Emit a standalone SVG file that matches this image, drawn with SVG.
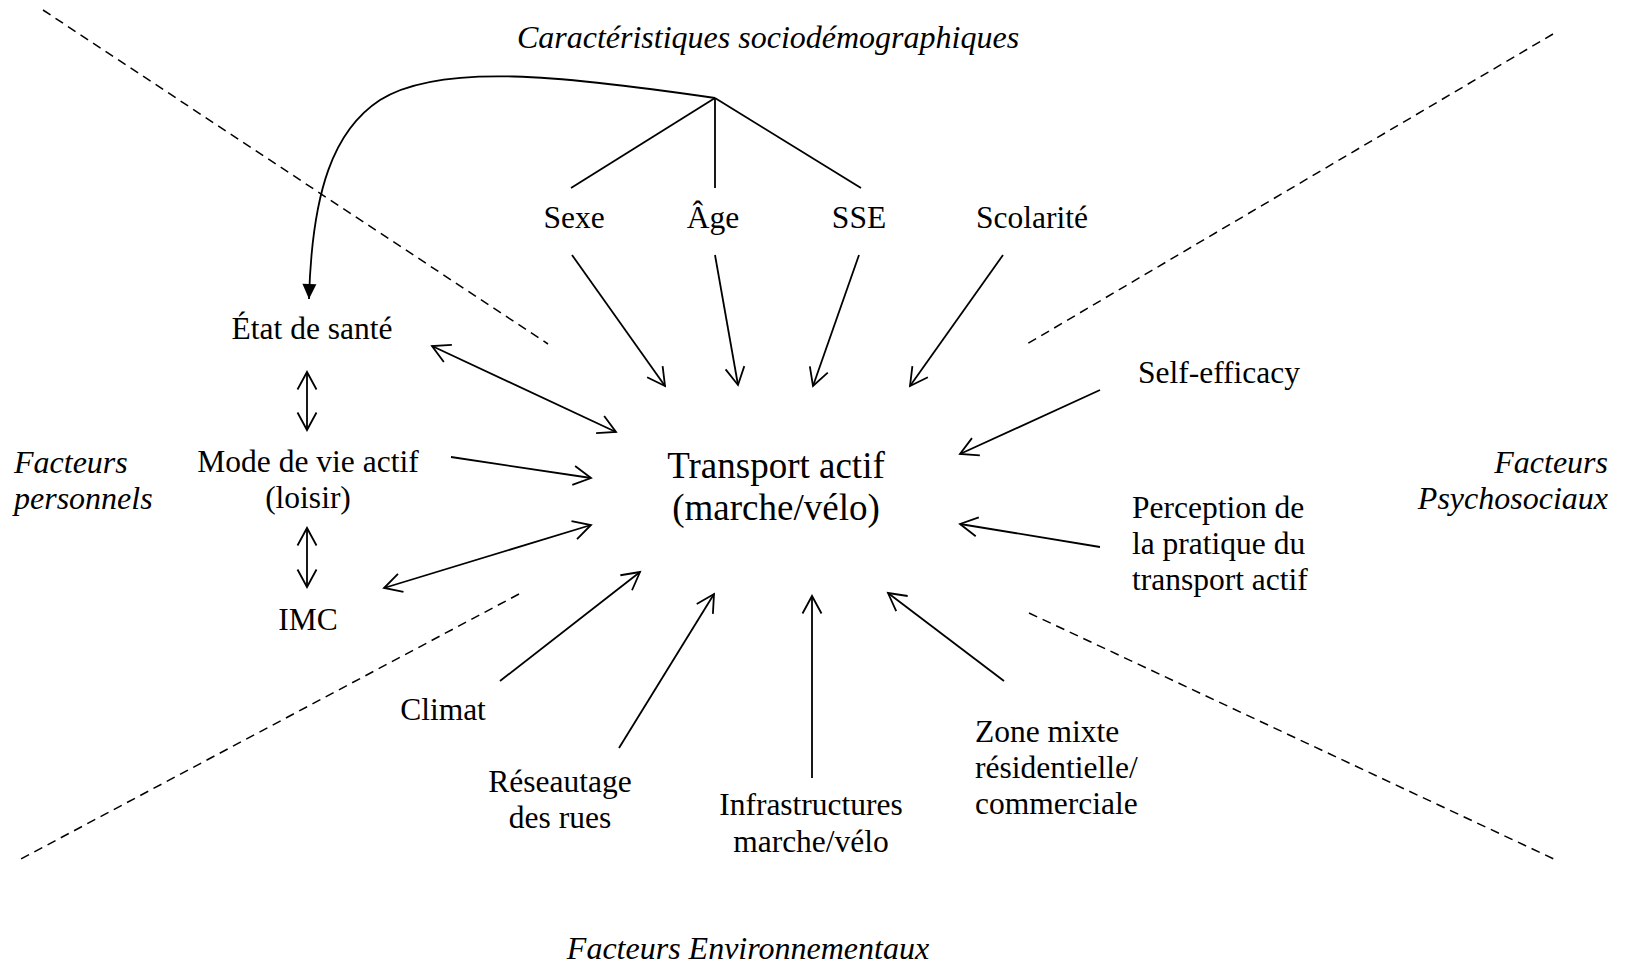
<svg xmlns="http://www.w3.org/2000/svg" width="1630" height="968" viewBox="0 0 1630 968">
<defs>
<marker id="open" markerUnits="userSpaceOnUse" markerWidth="40" markerHeight="40" refX="0" refY="0" viewBox="-20 -20 40 40" orient="auto-start-reverse" overflow="visible">
<path d="M -17.5 -9.5 L 0 0 L -17.5 9.5" fill="none" stroke="#000" stroke-width="1.8"/>
</marker>
<marker id="solid" markerUnits="userSpaceOnUse" markerWidth="40" markerHeight="40" refX="0" refY="0" viewBox="-20 -20 40 40" orient="auto" overflow="visible">
<path d="M -15 -7 L 0 0 L -15 7 Z" fill="#000" stroke="none"/>
</marker>
</defs>
<style>
text { font-family: "Liberation Serif", "Times New Roman", serif; fill: #000; }
.lbl { font-size: 31.5px; }
.mid { text-anchor: middle; }
.main { font-size: 37px; text-anchor: middle; }
.cat { font-size: 32px; font-style: italic; }
.dash { stroke: #000; stroke-width: 1.5; stroke-dasharray: 9 6; fill: none; }
.ln { stroke: #000; stroke-width: 1.8; fill: none; }
.arr { stroke: #000; stroke-width: 1.8; fill: none; marker-end: url(#open); }
.bi { stroke: #000; stroke-width: 1.8; fill: none; marker-start: url(#open); marker-end: url(#open); }
</style>
<rect width="1630" height="968" fill="#fff"/>

<g id="dividers">
<line class="dash" x1="43" y1="10" x2="548" y2="344"/>
<line class="dash" x1="1553" y1="34" x2="1027" y2="344"/>
<line class="dash" x1="519" y1="594" x2="19" y2="860"/>
<line class="dash" x1="1029" y1="613" x2="1556" y2="860"/>
</g>

<g id="categories">
<text class="cat" x="768" y="48" text-anchor="middle">Caractéristiques sociodémographiques</text>
<text class="cat" x="14" y="473">Facteurs</text>
<text class="cat" x="14" y="509">personnels</text>
<text class="cat" x="1608" y="473" text-anchor="end">Facteurs</text>
<text class="cat" x="1608" y="509" text-anchor="end">Psychosociaux</text>
<text class="cat" x="748" y="959" text-anchor="middle">Facteurs Environnementaux</text>
</g>

<g id="connectors">
<path class="ln" d="M 715 98 C 565 76 440 62 380 100 C 334 130 312 190 309 299" marker-end="url(#solid)"/>
<line class="ln" x1="715" y1="98" x2="571" y2="188"/>
<line class="ln" x1="715" y1="98" x2="715" y2="188"/>
<line class="ln" x1="715" y1="98" x2="861" y2="188"/>
<line class="arr" x1="572" y1="255" x2="665" y2="386"/>
<line class="arr" x1="715" y1="255" x2="738" y2="385"/>
<line class="arr" x1="859" y1="255" x2="813" y2="386"/>
<line class="arr" x1="1003" y1="255" x2="910" y2="386"/>
<line class="bi" x1="432" y1="346" x2="616" y2="432"/>
<line class="arr" x1="451" y1="457" x2="591" y2="478"/>
<line class="bi" x1="384" y1="588" x2="591" y2="525"/>
<line class="bi" x1="307" y1="372" x2="307" y2="430"/>
<line class="bi" x1="307" y1="528" x2="307" y2="587"/>
<line class="arr" x1="1100" y1="390" x2="960" y2="454"/>
<line class="arr" x1="1100" y1="547" x2="960" y2="524"/>
<line class="arr" x1="500" y1="681" x2="640" y2="572"/>
<line class="arr" x1="619" y1="748" x2="714" y2="594"/>
<line class="arr" x1="812" y1="778" x2="812" y2="596"/>
<line class="arr" x1="1004" y1="681" x2="888" y2="593"/>
</g>

<g id="node-transport"><text class="main" x="776" y="478">Transport actif</text><text class="main" x="776" y="520">(marche/vélo)</text></g>
<g id="node-sexe"><text class="lbl mid" x="574" y="228">Sexe</text></g>
<g id="node-age"><text class="lbl mid" x="713" y="228">Âge</text></g>
<g id="node-sse"><text class="lbl mid" x="859" y="228">SSE</text></g>
<g id="node-scolarite"><text class="lbl mid" x="1032" y="228">Scolarité</text></g>
<g id="node-sante"><text class="lbl mid" x="312" y="339">État de santé</text></g>
<g id="node-mode"><text class="lbl mid" x="308" y="472">Mode de vie actif</text><text class="lbl mid" x="308" y="508">(loisir)</text></g>
<g id="node-imc"><text class="lbl mid" x="308" y="630">IMC</text></g>
<g id="node-self"><text class="lbl mid" x="1219" y="383">Self-efficacy</text></g>
<g id="node-perception"><text class="lbl" x="1132" y="518">Perception de</text><text class="lbl" x="1132" y="554">la pratique du</text><text class="lbl" x="1132" y="590">transport actif</text></g>
<g id="node-climat"><text class="lbl mid" x="443" y="720">Climat</text></g>
<g id="node-reseautage"><text class="lbl mid" x="560" y="792">Réseautage</text><text class="lbl mid" x="560" y="828">des rues</text></g>
<g id="node-infra"><text class="lbl mid" x="811" y="815">Infrastructures</text><text class="lbl mid" x="811" y="852">marche/vélo</text></g>
<g id="node-zone"><text class="lbl" x="975" y="742">Zone mixte</text><text class="lbl" x="975" y="778">résidentielle/</text><text class="lbl" x="975" y="814">commerciale</text></g>
</svg>
